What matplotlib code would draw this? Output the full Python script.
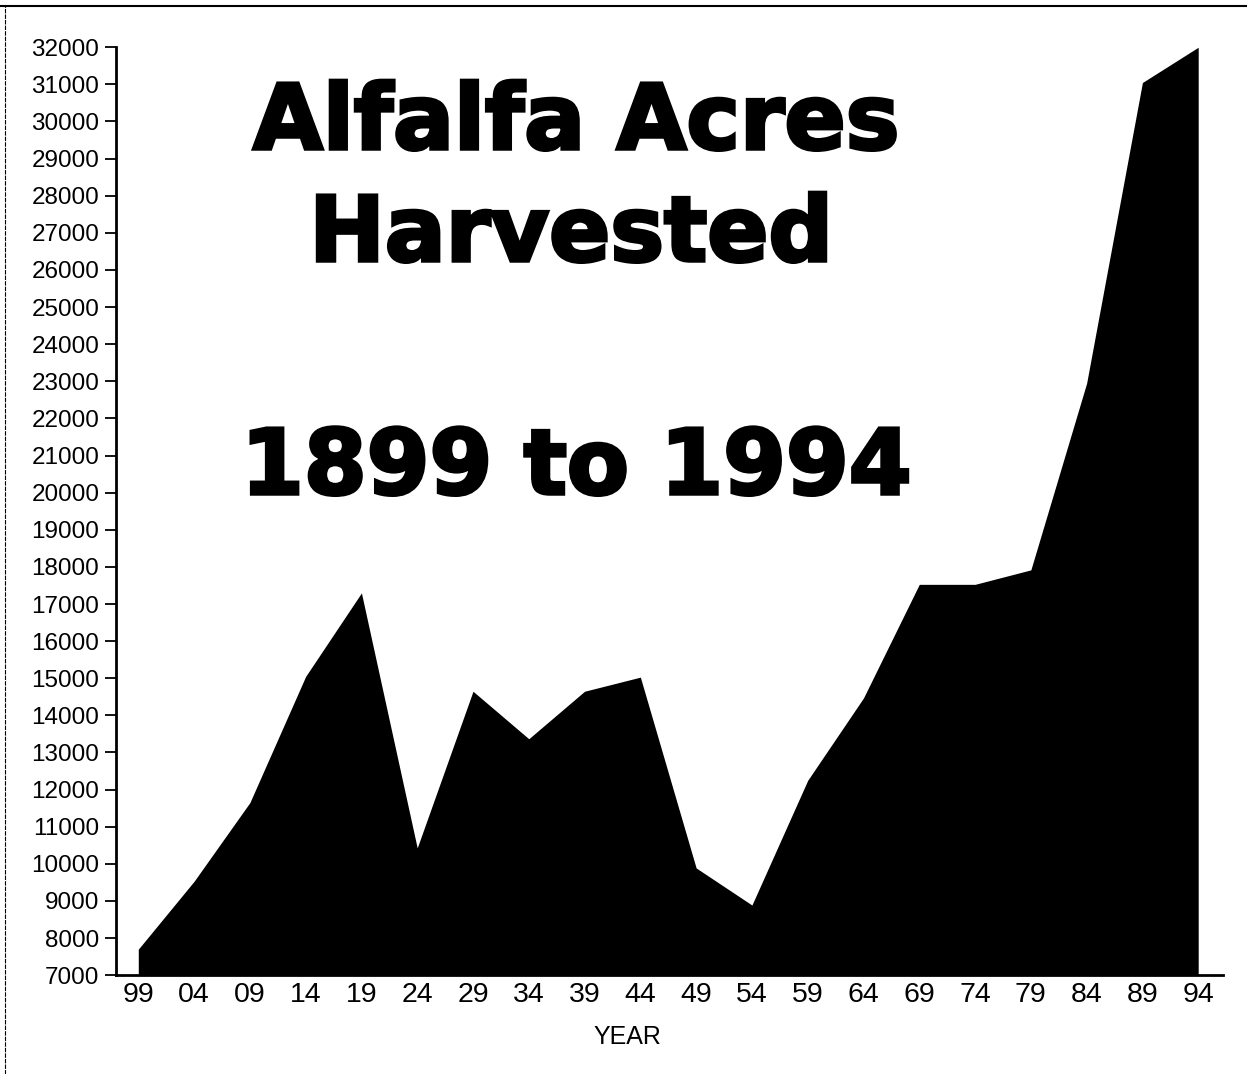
import matplotlib
matplotlib.use("Agg")
import matplotlib.pyplot as plt
import matplotlib.patheffects as pe
from matplotlib.lines import Line2D

# Etykiety lat (dwie ostatnie cyfry) i powierzchnia zbiorów lucerny
years = ["99", "04", "09", "14", "19", "24", "29", "34", "39", "44",
         "49", "54", "59", "64", "69", "74", "79", "84", "89", "94"]
acres = [7700, 9530, 11650, 15050, 17300, 10430, 14650, 13370, 14650, 15030,
         9890, 8890, 12250, 14470, 17530, 17530, 17920, 22950, 31050, 32000]
y_ticks = list(range(7000, 33000, 1000))

plt.rcParams["font.family"] = ["Liberation Sans", "DejaVu Sans"]

fig = plt.figure(figsize=(12.47, 10.74), dpi=100)
ax = fig.add_axes([0.093, 0.092, 0.888, 0.864])

x = list(range(len(years)))
ax.fill_between(x, acres, 7000, color="black", linewidth=0)

ax.set_xlim(-0.40, 19.45)
ax.set_ylim(7000, 32000)
ax.set_yticks(y_ticks)
ax.set_yticklabels([str(v) for v in y_ticks], fontsize=17.5)
ax.set_xticks(x)
ax.set_xticklabels(years, fontsize=20.5)
ax.tick_params(axis="y", length=8, width=1.3, pad=4, direction="out")
ax.tick_params(axis="x", length=0, pad=5)

for side in ["top", "right"]:
    ax.spines[side].set_visible(False)
for side in ["left", "bottom"]:
    ax.spines[side].set_linewidth(2)

fig.text(0.503, 1 - 1037 / 1074, "YEAR", fontsize=18, ha="center", va="center")

# Tytuł na wykresie - pogrubiony obrysem, żeby przypominał krój "Black"
title_font = dict(family="DejaVu Sans", fontweight="bold", ha="center", va="baseline",
                  transform=fig.transFigure,
                  path_effects=[pe.withStroke(linewidth=2.5, foreground="black",
                                              joinstyle="miter")])
fig.text(0.462, 1 - 149 / 1074, "Alfalfa Acres", fontsize=65, **title_font)
fig.text(0.458, 1 - 261 / 1074, "Harvested", fontsize=65, **title_font)
fig.text(0.462, 1 - 494 / 1074, "1899 to 1994", fontsize=65, **title_font)

# Ramka skanu
fig.add_artist(Line2D([0, 1], [0.994, 0.994], color="black", linewidth=1.5, transform=fig.transFigure))
fig.add_artist(Line2D([0.004, 0.004], [0, 0.994], color="black", linewidth=0.8,
                      linestyle=(0, (4, 1)), transform=fig.transFigure))

fig.savefig("out.png", dpi=100)
